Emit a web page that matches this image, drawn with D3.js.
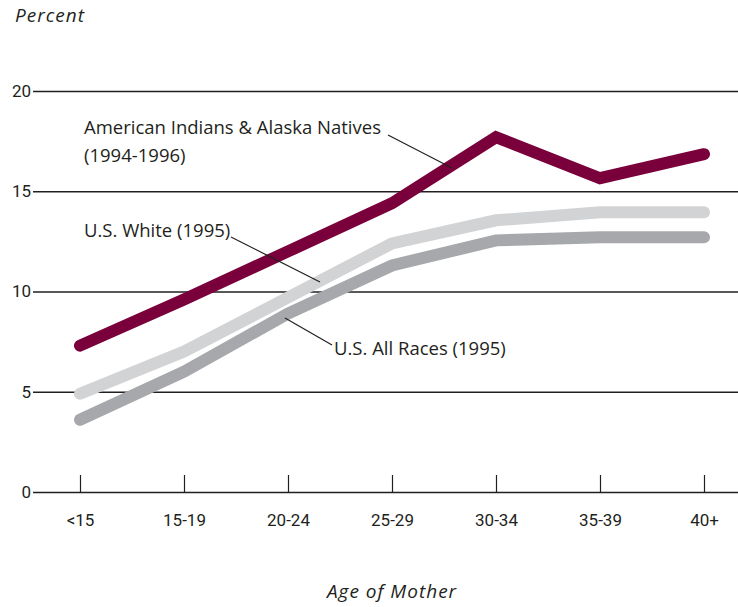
<!DOCTYPE html>
<html>
<head>
<meta charset="utf-8">
<script src="https://cdn.jsdelivr.net/npm/d3@7"></script>
<style>
  html, body { margin: 0; padding: 0; background: #fff; }
  svg text { font-family: "Roboto", "Liberation Sans", sans-serif; fill: #231f20; }
  svg text.lbl { font-family: "Open Sans", "Roboto", sans-serif; }
</style>
</head>
<body>
<svg id="chart"></svg>
<script>
// age groups along the bottom
const ages = ['<15', '15-19', '20-24', '25-29', '30-34', '35-39', '40+'];
const yTicks = [0, 5, 10, 15, 20];

// percent values
const aian = [7.3, 9.6, 12.0, 14.4, 17.7, 15.65, 16.85];
const usWhite = [4.9, 7.0, 9.7, 12.4, 13.55, 13.95, 13.95];
const usAll = [3.6, 6.0, 8.9, 11.3, 12.55, 12.7, 12.7];

const width = 738;
const height = 607;

const svg = d3.select('#chart')
  .attr('width', width)
  .attr('height', height);

const x = d3.scalePoint()
  .domain(ages)
  .range([80, 704]);

const y = d3.scaleLinear()
  .domain([0, 20])
  .range([492, 91]);

// gridlines + y labels
const yAxis = svg.append('g')
  .attr('transform', 'translate(33,0)')
  .call(d3.axisLeft(y).tickValues(yTicks).tickSize(-(width - 33)).tickPadding(3));
yAxis.select('.domain').remove();
yAxis.selectAll('.tick line').attr('stroke', '#231f20').attr('stroke-width', 1.4);
yAxis.selectAll('.tick text')
  .attr('font-size', 17)
  .attr('x', -2);

// x axis, ticks pointing up
const xAxis = svg.append('g')
  .attr('transform', `translate(0,${y(0)})`)
  .call(d3.axisBottom(x).tickSize(-17).tickPadding(0));
xAxis.select('.domain').remove();
xAxis.selectAll('.tick line').attr('stroke', '#231f20').attr('stroke-width', 1.2);
xAxis.selectAll('.tick text')
  .attr('font-size', 17)
  .attr('y', 34)
  .attr('dy', 0);

const line = d3.line()
  .x((d, i) => x(ages[i]))
  .y(d => y(d));

const series = [
  { values: usAll, color: '#a7a8ac' },
  { values: usWhite, color: '#d2d3d5' },
  { values: aian, color: '#79003a' }
];

svg.selectAll('.series')
  .data(series)
  .enter().append('path')
  .attr('class', 'series')
  .attr('d', d => line(d.values))
  .attr('fill', 'none')
  .attr('stroke', d => d.color)
  .attr('stroke-width', 12)
  .attr('stroke-linecap', 'round')
  .attr('stroke-linejoin', 'miter');

// series labels with leader lines
const labels = [
  { lines: ['American Indians & Alaska Natives', '(1994-1996)'], x: 84, y: 134, lead: [388, 135, 452, 168] },
  { lines: ['U.S. White (1995)'], x: 84, y: 237, lead: [231, 237, 320, 282] },
  { lines: ['U.S. All Races (1995)'], x: 334, y: 355, lead: [285, 318, 332, 345] }
];

labels.forEach(l => {
  const t = svg.append('text')
    .attr('class', 'lbl')
    .attr('x', l.x)
    .attr('y', l.y)
    .attr('font-size', 18.5);
  l.lines.forEach((s, i) => {
    t.append('tspan').attr('x', l.x).attr('dy', i === 0 ? 0 : 28).text(s);
  });
  svg.append('line')
    .attr('x1', l.lead[0]).attr('y1', l.lead[1])
    .attr('x2', l.lead[2]).attr('y2', l.lead[3])
    .attr('stroke', '#231f20')
    .attr('stroke-width', 1.2);
});

// axis titles
svg.append('text')
  .attr('class', 'lbl')
  .attr('x', 15)
  .attr('y', 22)
  .attr('font-size', 19)
  .attr('letter-spacing', 1)
  .attr('font-style', 'italic')
  .text('Percent');

svg.append('text')
  .attr('class', 'lbl')
  .attr('x', 392)
  .attr('y', 598)
  .attr('text-anchor', 'middle')
  .attr('font-size', 19)
  .attr('letter-spacing', 1)
  .attr('font-style', 'italic')
  .text('Age of Mother');
</script>
</body>
</html>
